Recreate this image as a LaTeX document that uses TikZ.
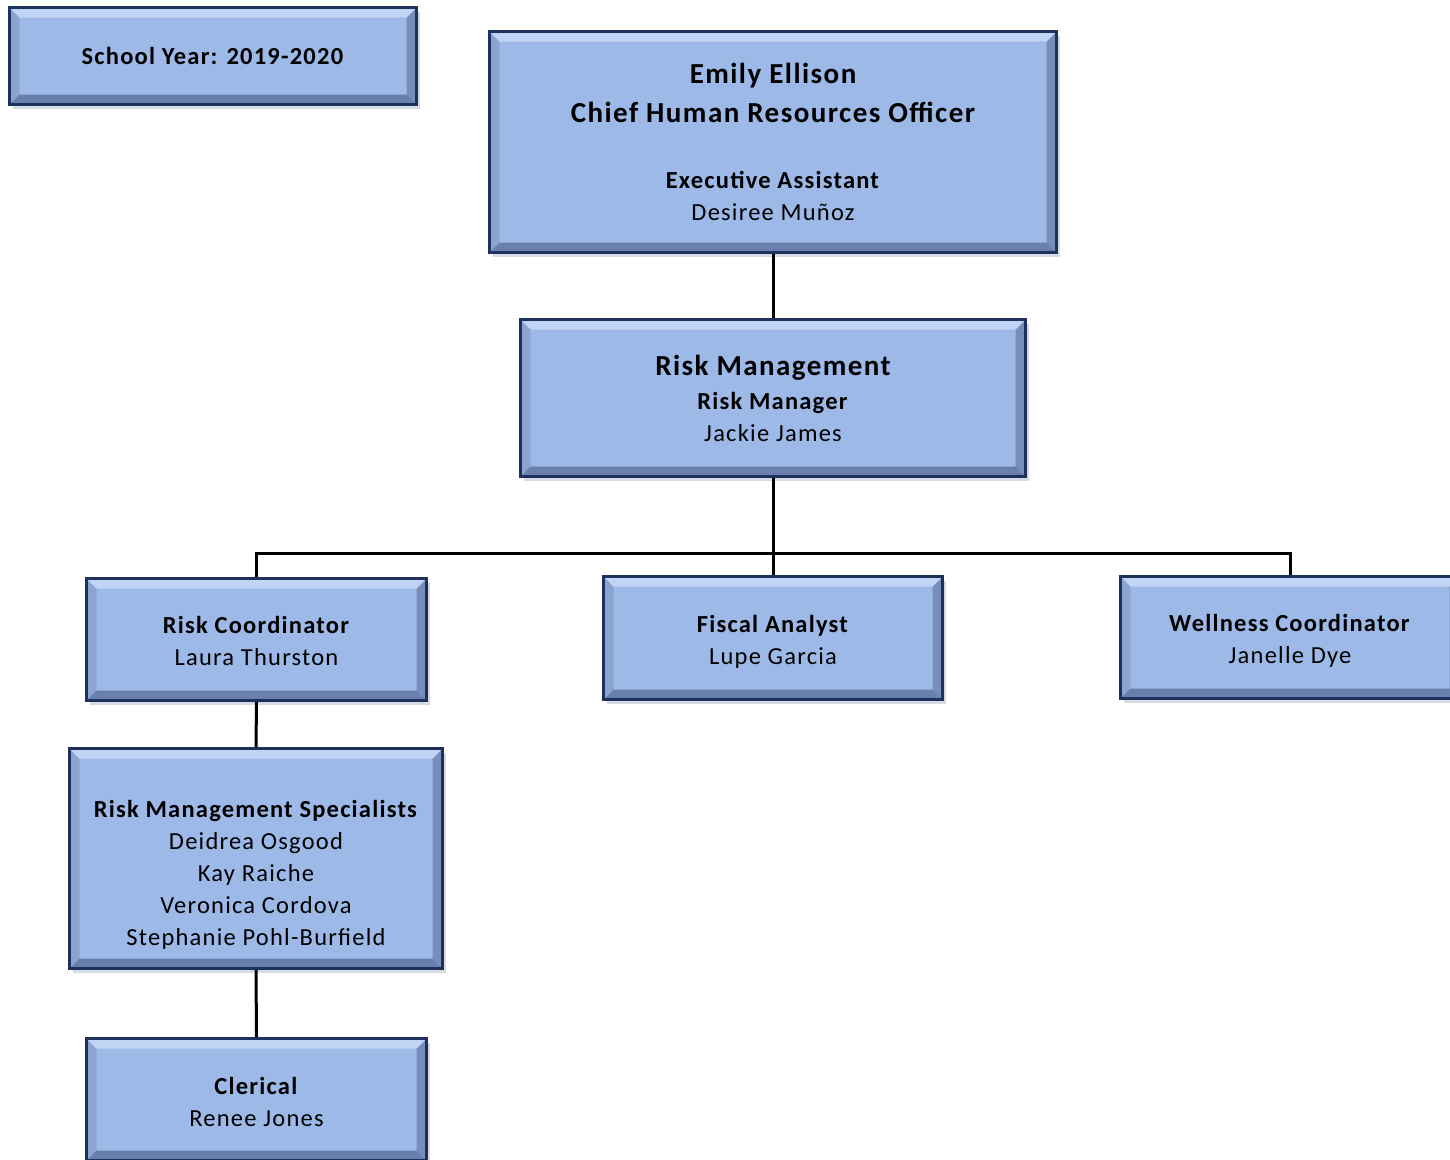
\documentclass[tikz,border=0pt]{standalone}
\usepackage{fontspec}
\setmainfont{Carlito}[LetterSpace=5]
\usetikzlibrary{shadows}
\definecolor{boxfill}{RGB}{157,185,232}
\definecolor{boxline}{RGB}{30,48,92}
\definecolor{bevtop}{RGB}{194,212,244}
\definecolor{bevbot}{RGB}{106,128,172}
\definecolor{bevright}{RGB}{120,142,186}
\definecolor{bevleft}{RGB}{140,164,208}
\newcommand{\ttlfont}{\fontsize{29}{39}\selectfont\bfseries}

\begin{document}
\begin{tikzpicture}[x=1pt,y=-1pt,
                    org box/.style={rectangle,draw=boxline,line width=3pt,fill=boxfill,
                                    align=center,font=\fontsize{24.5}{32}\selectfont,
                                    drop shadow={shadow xshift=3pt,shadow yshift=-4pt,
                                                 opacity=0.18,fill=boxline},
                                    path picture={
      \path (path picture bounding box.north west) coordinate (pnw)
            (path picture bounding box.north east) coordinate (pne)
            (path picture bounding box.south west) coordinate (psw)
            (path picture bounding box.south east) coordinate (pse);
      \fill[bevleft] (pnw) -- (psw) -- ([xshift=10pt,yshift=10pt]psw)
                     -- ([xshift=10pt,yshift=-10pt]pnw) -- cycle;
      \fill[bevright] (pne) -- (pse) -- ([xshift=-10pt,yshift=10pt]pse)
                      -- ([xshift=-10pt,yshift=-10pt]pne) -- cycle;
      \fill[bevtop] (pnw) -- (pne) -- ([xshift=-10pt,yshift=-10pt]pne)
                    -- ([xshift=10pt,yshift=-10pt]pnw) -- cycle;
      \fill[bevbot] (psw) -- (pse) -- ([xshift=-10pt,yshift=10pt]pse)
                    -- ([xshift=10pt,yshift=10pt]psw) -- cycle;
                                    }},
                    link/.style={line width=3pt,black}
                   ]
   \useasboundingbox (0,0) rectangle (1450,1159);
   % top row
   \node[org box,minimum width=407pt,minimum height=97pt] (year) at (213,56)
        {\textbf{School Year: 2019-2020}};
   \node[org box,minimum width=567pt,minimum height=221pt] (chief) at (773,142)
        {{\ttlfont Emily Ellison}\\[7pt]{\ttlfont Chief Human Resources Officer}\\[34pt]
         \textbf{Executive Assistant}\\Desiree Muñoz};
   \node[org box,minimum width=505pt,minimum height=157pt] (risk) at (773,398)
        {{\ttlfont Risk Management}\\[2pt]\textbf{Risk Manager}\\Jackie James};
   % staff row
   \node[org box,minimum width=340pt,minimum height=122pt] (coord) at (256.5,639.5)
        {\mbox{}\\[-12pt]\textbf{Risk Coordinator}\\Laura Thurston};
   \node[org box,minimum width=339pt,minimum height=123pt] (fiscal) at (773,638)
        {\mbox{}\\[-8pt]\textbf{Fiscal Analyst}\\Lupe Garcia};
   \node[org box,minimum width=339pt,minimum height=122pt] (well) at (1290,637.5)
        {\mbox{}\\[-8pt]\textbf{Wellness Coordinator}\\Janelle Dye};
   % under the coordinator
   \node[org box,minimum width=373pt,minimum height=220pt] (spec) at (256,858.5)
        {\mbox{}\\[18pt]\textbf{Risk Management Specialists}\\Deidrea Osgood\\Kay Raiche\\
         Veronica Cordova\\Stephanie Pohl-Burfield};
   \node[org box,minimum width=340pt,minimum height=122pt] (cler) at (256.5,1099.5)
        {\mbox{}\\[-10pt]\textbf{Clerical}\\Renee Jones};
   \coordinate (bus) at (773,553);
   \draw[link] (chief.south) -- (risk.north);
   \draw[link] (risk.south) -- (bus);
   \draw[link] (coord.north) |- (bus) -| (well.north);
   \draw[link] (bus) -- (fiscal.north);
   \draw[link] (coord.south) -- (spec.north);
   \draw[link] (spec.south) -- (cler.north);
\end{tikzpicture}
\end{document}
